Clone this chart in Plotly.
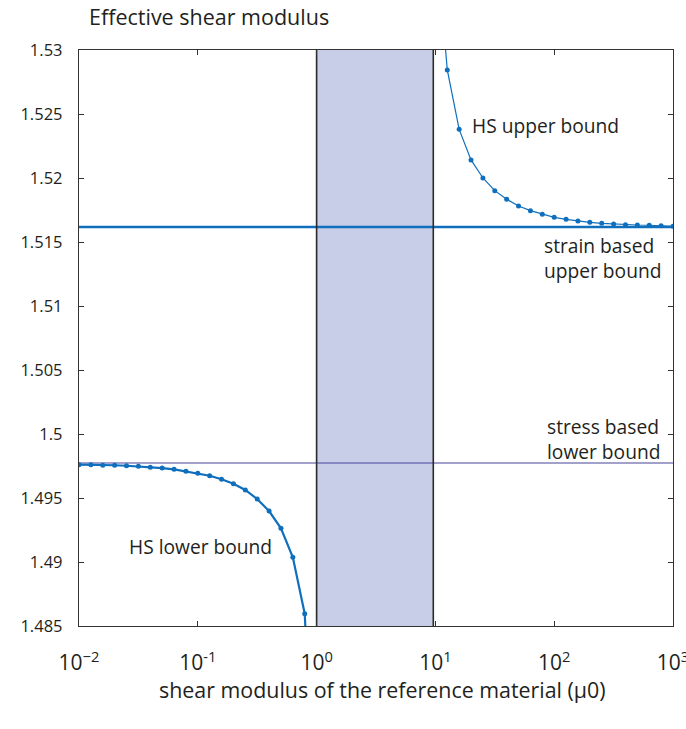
import plotly.graph_objects as go

# ---------------- data ----------------
# HS upper bound (reference modulus, effective modulus)
hs_upper_x = [10.0, 12.59, 15.85, 19.95, 25.12, 31.62, 39.81, 50.12, 63.10, 79.43, 100.0,
              125.9, 158.5, 199.5, 251.2, 316.2, 398.1, 501.2, 631.0, 794.3, 1000.0]
hs_upper_y = [1.5394, 1.52844, 1.52380, 1.52141, 1.52000, 1.51901, 1.51834, 1.51781, 1.51745,
              1.51717, 1.51693, 1.51677, 1.51664, 1.51654, 1.51646, 1.51641, 1.51635,
              1.51633, 1.51631, 1.51627, 1.51623]

# HS lower bound
hs_lower_x = [0.01, 0.01259, 0.01585, 0.01995, 0.02512, 0.03162, 0.03981, 0.05012, 0.06310,
              0.07943, 0.1, 0.1259, 0.1585, 0.1995, 0.2512, 0.3162, 0.3981, 0.5012,
              0.6310, 0.7943, 1.0]
hs_lower_y = [1.49760, 1.49760, 1.49756, 1.49756, 1.49752, 1.49748, 1.49740, 1.49734,
              1.49724, 1.49709, 1.49693, 1.49674, 1.49646, 1.49612, 1.49563, 1.49492,
              1.49398, 1.49263, 1.49037, 1.48596, 1.4669]

strain_upper = 1.51617
stress_lower = 1.49773

band_x = [1.0, 9.6]          # range of phase moduli (shaded)
x_range = [0.01, 1000.0]
y_range = [1.485, 1.53]

y_tickvals = [1.485, 1.49, 1.495, 1.5, 1.505, 1.51, 1.515, 1.52, 1.525, 1.53]
y_ticktext = ["1.485", "1.49", "1.495", "1.5", "1.505", "1.51", "1.515", "1.52", "1.525", "1.53"]
x_tickvals = [0.01, 0.1, 1, 10, 100, 1000]
x_ticktext = ["10<sup>\u22122</sup>", "10<sup>-1</sup>", "10<sup>0</sup>",
              "10<sup>1</sup>", "10<sup>2</sup>", "10<sup>3</sup>"]

BLUE = "#0f6fbd"
FONT = "Open Sans"

# ---------------- layout geometry ----------------
W, H = 686, 729
L, R, T, B = 79, 673, 50, 626


def px(xp):
    return (xp - L) / (R - L)


def py(yp):
    return (B - yp) / (B - T)


fig = go.Figure()

# shaded band
fig.add_trace(go.Scatter(
    x=[band_x[0], band_x[1], band_x[1], band_x[0], band_x[0]],
    y=[y_range[0], y_range[0], y_range[1], y_range[1], y_range[0]],
    fill="toself", fillcolor="#c9cee8", mode="none", hoverinfo="skip", showlegend=False))

# horizontal bounds
fig.add_trace(go.Scatter(x=x_range, y=[stress_lower, stress_lower], mode="lines",
                         line=dict(color="#45459a", width=1.1), showlegend=False))
fig.add_trace(go.Scatter(x=x_range, y=[strain_upper, strain_upper], mode="lines",
                         line=dict(color=BLUE, width=2.6), showlegend=False))

# vertical band edges
for xv in band_x:
    fig.add_trace(go.Scatter(x=[xv, xv], y=y_range, mode="lines",
                             line=dict(color="#2a2a2a", width=1.6), showlegend=False))

# HS curves
fig.add_trace(go.Scatter(x=hs_upper_x, y=hs_upper_y, mode="lines+markers",
                         line=dict(color=BLUE, width=1.2),
                         marker=dict(color=BLUE, size=5), showlegend=False))
fig.add_trace(go.Scatter(x=hs_lower_x, y=hs_lower_y, mode="lines+markers",
                         line=dict(color=BLUE, width=2.2),
                         marker=dict(color=BLUE, size=5), showlegend=False))

txt = "#231f20"
ann = []
ann.append(dict(text="Effective shear modulus", x=px(87), y=py(17), xanchor="left",
                yanchor="middle", font=dict(size=21.5)))
ann.append(dict(text="shear modulus of the reference material (\u03bc0)", x=px(382), y=py(689),
                xanchor="center", yanchor="middle", font=dict(size=21.4)))
ann.append(dict(text="HS upper bound", x=px(470), y=py(126), xanchor="left",
                yanchor="middle", font=dict(size=19.2)))
ann.append(dict(text="strain based<br>upper bound", x=px(542), y=py(258), xanchor="left",
                yanchor="middle", align="left", font=dict(size=19.2)))
ann.append(dict(text="stress based<br>lower bound", x=px(545), y=py(439), xanchor="left",
                yanchor="middle", align="left", font=dict(size=19.2)))
ann.append(dict(text="HS lower bound", x=px(127), y=py(546), xanchor="left",
                yanchor="middle", font=dict(size=19.2)))
for a in ann:
    a.update(xref="paper", yref="paper", showarrow=False)
    a["font"].update(family=FONT, color=txt)

axis_common = dict(showline=True, linecolor="#333333", linewidth=1.4, mirror="ticks",
                   ticks="inside", ticklen=5, tickwidth=1.2, tickcolor="#333333",
                   showgrid=False, zeroline=False, ticklabeloverflow="allow",
                   automargin=False)

fig.update_layout(
    width=W, height=H,
    margin=dict(l=L, r=W - R, t=T, b=H - B, autoexpand=False),
    paper_bgcolor="white", plot_bgcolor="white",
    font=dict(family=FONT, color=txt),
    annotations=ann,
    xaxis=dict(type="log", range=[-2, 3], tickvals=x_tickvals, ticktext=x_ticktext,
               tickfont=dict(size=21, family=FONT, color=txt), ticklabelstandoff=18,
               **axis_common),
    yaxis=dict(range=y_range, tickvals=y_tickvals, ticktext=y_ticktext,
               tickfont=dict(size=16.5, family=FONT, color=txt), ticklabelstandoff=12,
               **axis_common),
)

fig.write_html("out.html")
